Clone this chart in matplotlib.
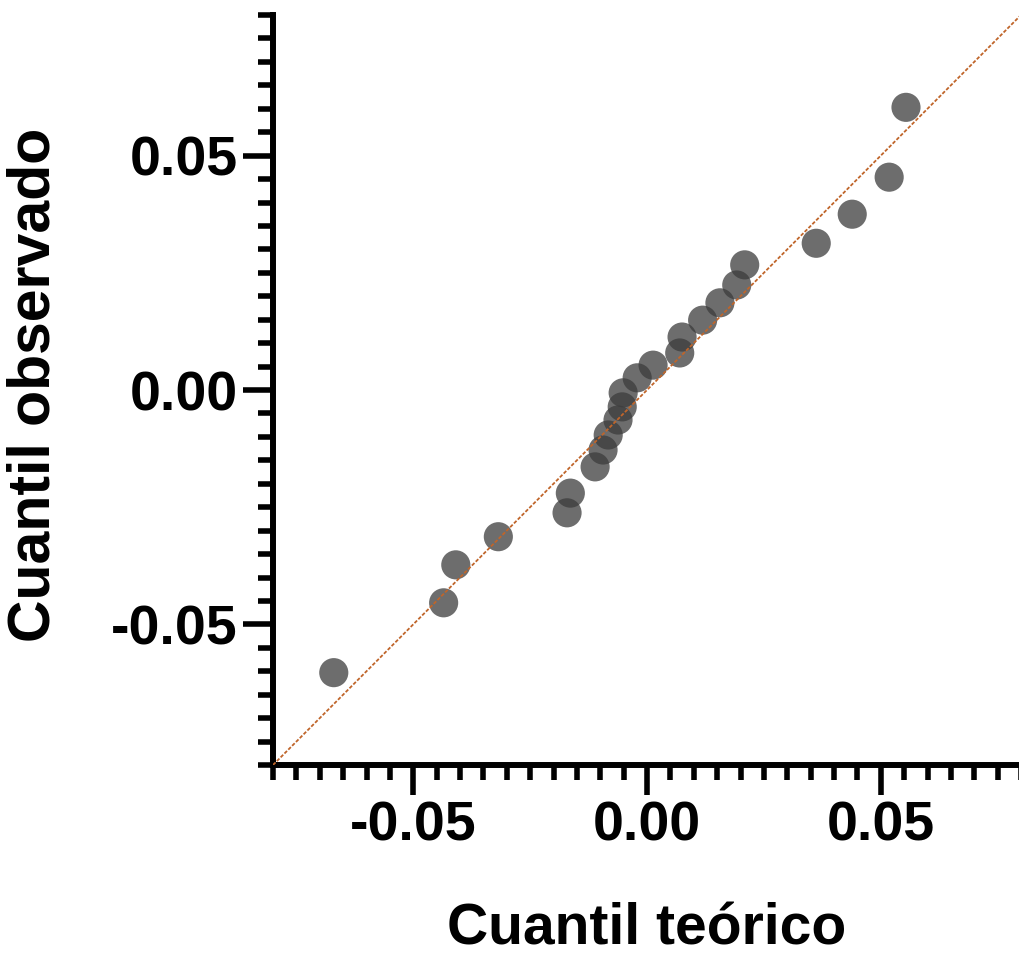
import matplotlib
matplotlib.use('Agg')
import matplotlib.pyplot as plt
from matplotlib.ticker import MultipleLocator, FormatStrFormatter

cuantil_teorico = [-0.0670, -0.0435, -0.0409, -0.0318, -0.0171, -0.0164,
                   -0.0111, -0.0094, -0.0083, -0.0062, -0.0053, -0.0051,
                   -0.0021, 0.0013, 0.0070, 0.0075, 0.0119, 0.0156,
                   0.0192, 0.0209, 0.0362, 0.0439, 0.0518, 0.0554]
cuantil_observado = [-0.0603, -0.0454, -0.0373, -0.0313, -0.0262, -0.0220,
                     -0.0164, -0.0128, -0.0096, -0.0064, -0.0036, -0.0006,
                     0.0026, 0.0053, 0.0079, 0.0113, 0.0149, 0.0186,
                     0.0224, 0.0267, 0.0313, 0.0375, 0.0454, 0.0603]
limites = [-0.08, 0.08]

plt.rcParams['font.family'] = ['Liberation Sans', 'DejaVu Sans']
plt.rcParams['font.weight'] = 'bold'
plt.rcParams['axes.unicode_minus'] = False

fig = plt.figure(figsize=(10.2, 9.55), dpi=100)
ax = fig.add_axes([273 / 1020, 1 - 765 / 955, 748 / 1020, 750 / 955])

ax.scatter(cuantil_teorico, cuantil_observado, s=440, color='#3c3c3c',
           alpha=0.75, edgecolors='none', zorder=2, clip_on=False)
ax.plot(limites, limites, color='#c0652a', lw=1.3, linestyle=(0, (2, 1)), zorder=3)

ax.set_xlim(limites)
ax.set_ylim(limites)

for s in ['top', 'right']:
    ax.spines[s].set_visible(False)
for s in ['left', 'bottom']:
    ax.spines[s].set_linewidth(4.3)

ax.xaxis.set_major_locator(MultipleLocator(0.05))
ax.yaxis.set_major_locator(MultipleLocator(0.05))
ax.xaxis.set_minor_locator(MultipleLocator(0.005))
ax.yaxis.set_minor_locator(MultipleLocator(0.005))
ax.xaxis.set_major_formatter(FormatStrFormatter('%.2f'))
ax.yaxis.set_major_formatter(FormatStrFormatter('%.2f'))
ax.tick_params(which='major', direction='out', length=21.5, width=4,
               labelsize=40, pad=4)
ax.tick_params(which='minor', direction='out', length=10.8, width=4)
for lab in ax.get_xticklabels() + ax.get_yticklabels():
    lab.set_fontweight('bold')

ax.set_xlabel('Cuantil teórico', fontsize=41, fontweight='bold')
ax.set_ylabel('Cuantil observado', fontsize=42.5, fontweight='bold')
ax.xaxis.label.set_va('center')
ax.yaxis.label.set_va('center')
ax.xaxis.set_label_coords(0.5, -0.219)
ax.yaxis.set_label_coords(-0.3195, 0.507)

fig.savefig('out.png', dpi=100)
